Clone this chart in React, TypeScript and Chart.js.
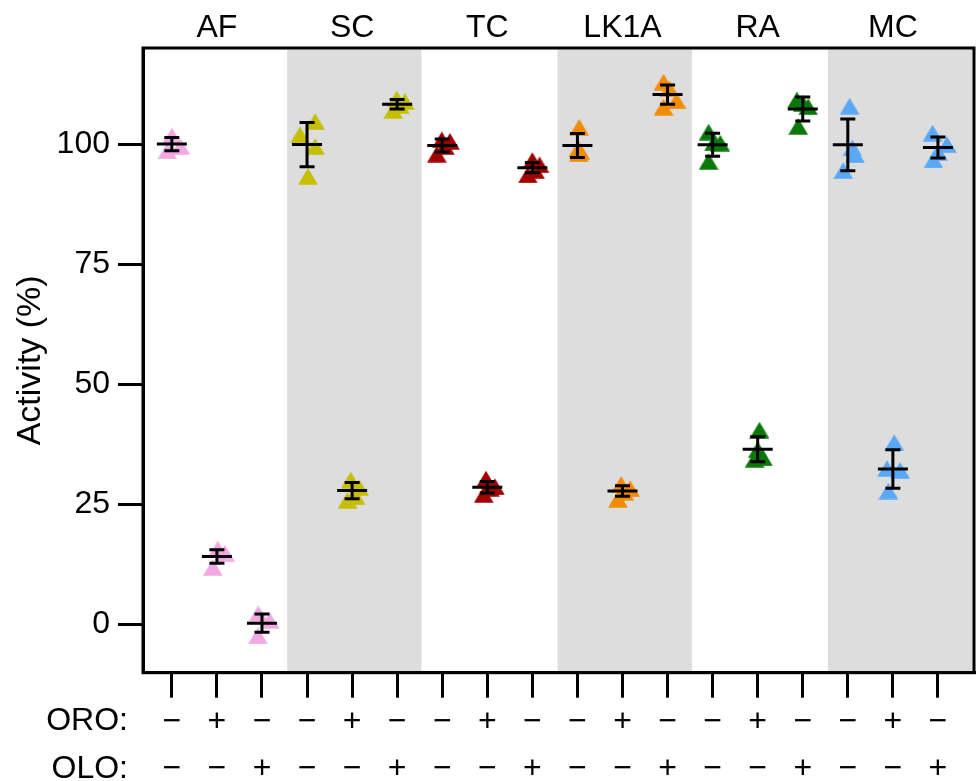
import { useEffect, useRef } from 'react';
import { Chart, registerables } from 'chart.js';

Chart.register(...registerables);

// ---- data ----
const GROUPS = ['AF', 'SC', 'TC', 'LK1A', 'RA', 'MC'];
const GROUP_COLORS = ['#F2A8E2', '#C6BE00', '#A00000', '#F38B00', '#087808', '#58A8F5'];
const SHADED_GROUPS = [1, 3, 5];
const ROW_LABELS = ['ORO:', 'OLO:'];
const ORO = ['−', '+', '−', '−', '+', '−', '−', '+', '−', '−', '+', '−', '−', '+', '−', '−', '+', '−'];
const OLO = ['−', '−', '+', '−', '−', '+', '−', '−', '+', '−', '−', '+', '−', '−', '+', '−', '−', '+'];
const Y_TICKS = [0, 25, 50, 75, 100];

const MEANS = [100, 14.2, 0.3, 99.9, 27.9, 108.3, 99.7, 28.6, 95.1, 99.7, 27.8, 110.3, 99.85, 36.5, 107.3, 99.85, 32.4, 99.3];
const ERRORS = [1.4, 1.4, 1.9, 4.6, 1.7, 1.0, 1.35, 1.2, 1.05, 2.5, 1.1, 2.0, 2.4, 2.6, 2.5, 5.4, 4.0, 2.2];

const REPLICATES = [
  [101.7, 98.6, 99.5],
  [15.75, 11.9, 14.85],
  [2.3, -2.3, 0.9],
  [104.7, 101.9, 99.5, 93.3],
  [30.1, 28.5, 25.9, 26.6],
  [109.4, 108.9, 107.0, 108.0],
  [100.9, 100.6, 97.9, 99.5],
  [30.3, 28.7, 27.1, 28.3],
  [96.6, 95.7, 93.6, 94.5],
  [103.5, 98.0, 98.5, 99.0],
  [29.2, 28.3, 26.1, 27.6],
  [112.9, 111.5, 109.0, 107.7],
  [102.5, 100.2, 96.4, 100.3],
  [40.5, 36.4, 34.4, 34.7],
  [109.2, 108.5, 107.8, 103.7],
  [107.9, 99.2, 97.8, 94.5],
  [37.9, 32.5, 32.1, 27.8],
  [102.3, 99.9, 98.3, 96.7],
];
// horizontal scatter of replicates (in category units)
const JITTER = [
  [0, -0.1, 0.19],
  [0.02, -0.09, 0.18],
  [-0.08, -0.09, 0.17],
  [0.18, -0.16, 0.18, 0.02],
  [-0.03, 0.16, -0.1, 0.08],
  [-0.01, 0.17, -0.09, 0.06],
  [-0.01, 0.17, -0.12, 0.06],
  [-0.03, 0.17, -0.08, 0.06],
  [0, 0.16, -0.1, 0.06],
  [0.04, 0.03, 0.06, 0.02],
  [-0.03, 0.17, -0.1, 0.04],
  [-0.09, 0.04, 0.2, -0.09],
  [-0.09, 0.17, -0.09, 0.03],
  [0.04, 0, -0.07, 0.12],
  [-0.13, 0, 0.12, -0.1],
  [0.04, 0.1, 0.16, -0.1],
  [0.03, -0.13, 0.16, -0.1],
  [-0.12, 0.2, 0, -0.1],
];

// ---- styling ----
const FONT = "'Liberation Sans', Arial, Helvetica, sans-serif";
const FS = 32;
const BAND_COLOR = '#dddddd';
const BAND_LO = -1.44;
const BAND_HI = 1.54;
const X_MIN = -0.64;
const X_MAX = 17.8;

function makeTriangle(color: string) {
  const c = document.createElement('canvas');
  c.width = 20;
  c.height = 17;
  const g = c.getContext('2d')!;
  g.fillStyle = color;
  g.beginPath();
  g.moveTo(10, 0.2);
  g.lineTo(19.8, 16.8);
  g.lineTo(0.2, 16.8);
  g.closePath();
  g.fill();
  return c;
}

const bandPlugin = {
  id: 'bands',
  beforeDatasetsDraw(chart: any) {
    const { ctx, chartArea: a, scales } = chart;
    const x = scales.x;
    ctx.save();
    ctx.fillStyle = BAND_COLOR;
    SHADED_GROUPS.forEach((g) => {
      const c = g * 3 + 1;
      const l = Math.max(x.getPixelForValue(c + BAND_LO), a.left);
      const r = g === GROUPS.length - 1 ? a.right - 1.5 : Math.min(x.getPixelForValue(c + BAND_HI), a.right - 1.5);
      ctx.fillRect(l, a.top + 1.5, r - l, a.bottom - a.top - 3);
    });
    ctx.restore();
  },
};

const errorPlugin = {
  id: 'errs',
  afterDatasetsDraw(chart: any) {
    const { ctx, chartArea: a, scales } = chart;
    const x = scales.x;
    const y = scales.y;
    ctx.save();
    ctx.strokeStyle = '#000';
    ctx.lineWidth = 3;
    MEANS.forEach((m, i) => {
      const px = x.getPixelForValue(i);
      const pm = y.getPixelForValue(m);
      const pt = y.getPixelForValue(m + ERRORS[i]);
      const pb = y.getPixelForValue(m - ERRORS[i]);
      ctx.beginPath();
      ctx.moveTo(px - 15, pm);
      ctx.lineTo(px + 15, pm);
      ctx.moveTo(px, pt);
      ctx.lineTo(px, pb);
      ctx.moveTo(px - 7.5, pt);
      ctx.lineTo(px + 7.5, pt);
      ctx.moveTo(px - 7.5, pb);
      ctx.lineTo(px + 7.5, pb);
      ctx.stroke();
    });
    ctx.strokeRect(a.left, a.top, a.right - a.left, a.bottom - a.top);
    ctx.restore();
  },
};

const rowLabelPlugin = {
  id: 'rows',
  afterDraw(chart: any) {
    const { ctx, chartArea: a } = chart;
    ctx.save();
    ctx.fillStyle = '#000';
    ctx.font = `${FS}px ${FONT}`;
    ctx.textAlign = 'right';
    ctx.textBaseline = 'middle';
    ctx.fillText(ROW_LABELS[0], 128, a.bottom + 48.5);
    ctx.fillText(ROW_LABELS[1], 128, a.bottom + 96);
    ctx.restore();
  },
};

export default function App() {
  const ref = useRef<HTMLCanvasElement>(null);

  useEffect(() => {
    if (!ref.current) return;
    const datasets = GROUPS.map((name, gi) => {
      const img = makeTriangle(GROUP_COLORS[gi]);
      const data: { x: number; y: number }[] = [];
      for (let k = 0; k < 3; k++) {
        const ci = gi * 3 + k;
        REPLICATES[ci].forEach((v, r) => data.push({ x: ci + JITTER[ci][r], y: v }));
      }
      return {
        label: name,
        data,
        pointStyle: img as any,
        pointRadius: 10,
        showLine: false,
        backgroundColor: GROUP_COLORS[gi],
        borderColor: GROUP_COLORS[gi],
      };
    });

    const chart = new Chart(ref.current, {
      type: 'scatter',
      data: { datasets },
      plugins: [bandPlugin, errorPlugin, rowLabelPlugin],
      options: {
        animation: false,
        responsive: false,
        devicePixelRatio: 1,
        layout: { autoPadding: false, padding: { left: 0, right: 2, top: 0, bottom: 0 } },
        plugins: { legend: { display: false }, tooltip: { enabled: false } },
        scales: {
          x: {
            type: 'linear',
            position: 'bottom',
            min: X_MIN,
            max: X_MAX,
            afterBuildTicks: (s: any) => {
              s.ticks = ORO.map((_, i) => ({ value: i }));
            },
            afterFit: (s: any) => {
              s.height = 108.3;
              s.paddingLeft = 0;
              s.paddingRight = 0;
            },
            ticks: {
              color: '#000',
              padding: 1,
              autoSkip: false,
              maxRotation: 0,
              font: { family: FONT, size: FS, lineHeight: 1.47 },
              callback: (v: any) => [ORO[Math.round(v)], OLO[Math.round(v)]],
            },
            grid: {
              display: true,
              drawOnChartArea: false,
              drawTicks: true,
              tickLength: 25,
              lineWidth: 3,
              color: '#000',
            },
            border: { display: true, width: 3, color: '#000' },
          },
          xTop: {
            type: 'linear',
            position: 'top',
            min: X_MIN,
            max: X_MAX,
            afterBuildTicks: (s: any) => {
              s.ticks = GROUPS.map((_, g) => ({ value: g * 3 + 1 }));
            },
            afterFit: (s: any) => {
              s.height = 48;
              s.paddingLeft = 0;
              s.paddingRight = 0;
            },
            ticks: {
              color: '#000',
              padding: 1,
              autoSkip: false,
              maxRotation: 0,
              font: { family: FONT, size: FS },
              callback: (v: any) => GROUPS[Math.round((v - 1) / 3)],
            },
            grid: { display: false, drawTicks: false },
            border: { display: false },
          },
          y: {
            type: 'linear',
            position: 'left',
            min: -10,
            max: 120,
            afterBuildTicks: (s: any) => {
              s.ticks = Y_TICKS.map((v) => ({ value: v }));
            },
            afterFit: (s: any) => {
              s.width = 143;
              s.paddingTop = 0;
              s.paddingBottom = 0;
            },
            ticks: {
              color: '#000',
              padding: 8,
              font: { family: FONT, size: FS },
            },
            grid: {
              display: true,
              drawOnChartArea: false,
              drawTicks: true,
              tickLength: 25,
              lineWidth: 3,
              color: '#000',
            },
            border: { display: true, width: 3, color: '#000' },
            title: {
              display: true,
              text: 'Activity (%)',
              color: '#000',
              font: { family: FONT, size: 34 },
              padding: { top: 10.5, bottom: 0 },
            },
          },
        },
      },
    });
    return () => chart.destroy();
  }, []);

  return (
    <div style={{ position: 'absolute', left: 0, top: 0, width: 976, height: 781, background: '#fff' }}>
      <canvas ref={ref} width={976} height={781} style={{ width: 976, height: 781, display: 'block' }} />
    </div>
  );
}
